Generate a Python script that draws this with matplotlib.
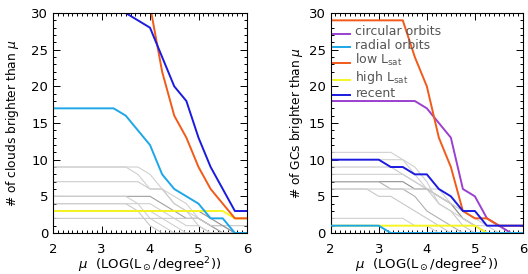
import numpy as np
import matplotlib
matplotlib.use("Agg")
import matplotlib.pyplot as plt
from matplotlib.ticker import MultipleLocator
from matplotlib.legend_handler import HandlerLine2D

plt.rcParams['font.family'] = ['DejaVu Sans']
plt.rcParams['mathtext.fontset'] = 'dejavusans'

# surface brightness grid
mu = [2.0, 2.25, 2.5, 2.75, 3.0, 3.25, 3.5, 3.75, 4.0, 4.25, 4.5, 4.75, 5.0, 5.25, 5.5, 5.75, 6.0]

# left panel: clouds
recent_l = [34, 34, 34, 33, 33, 31, 30, 29, 28, 24, 20, 18, 13, 9, 6, 3, 3]
low_l    = [45, 45, 44, 43, 42, 40, 37, 34, 31, 22, 16, 13, 9, 6, 4, 2, 2]
radial_l = [17, 17, 17, 17, 17, 17, 16, 14, 12, 8, 6, 5, 4, 2, 2, 0, 0]
high_l   = [3, 3, 3, 3, 3, 3, 3, 3, 3, 3, 3, 3, 3, 3, 3, 2, 2]
gray_l = [
    [9, 9, 9, 9, 9, 9, 9, 8, 6, 6, 5, 4, 2, 1, 1, 0, 0],
    [9, 9, 9, 9, 9, 9, 9, 9, 8, 6, 4, 3, 2, 1, 0, 0, 0],
    [7, 7, 7, 7, 7, 7, 7, 7, 6, 6, 4, 3, 1, 0, 0, 0, 0],
    [5, 5, 5, 5, 5, 5, 5, 5, 5, 4, 3, 2, 2, 1, 0, 0, 0],
    [5, 5, 5, 5, 5, 5, 5, 4, 2, 1, 0, 0, 0, 0, 0, 0, 0],
    [4, 4, 4, 4, 4, 4, 4, 3, 1, 0, 0, 0, 0, 0, 0, 0, 0],
    [3, 3, 3, 3, 3, 3, 3, 3, 3, 2, 1, 0, 0, 0, 0, 0, 0],
    [2, 2, 2, 2, 2, 2, 2, 2, 2, 2, 2, 2, 2, 1, 1, 1, 1],
    [4, 4, 4, 4, 4, 4, 4, 4, 4, 3, 2, 1, 1, 0, 0, 0, 0],
    [3, 3, 3, 3, 3, 3, 3, 3, 3, 3, 3, 3, 3, 2, 1, 0, 0],
]
gray_l_col = ['#d0d0d0', '#d0d0d0', '#cccccc', '#a0a0a0', '#d0d0d0',
              '#c8c8c8', '#d0d0d0', '#c8c8c8', '#d0d0d0', '#909090']

# right panel: GCs
circ_r   = [18, 18, 18, 18, 18, 18, 18, 18, 17, 15, 13, 6, 5, 2, 1, 0, 0]
radial_r = [1, 1, 1, 1, 1, 0, 0, 0, 0, 0, 0, 0, 0, 0, 0, 0, 0]
low_r    = [29, 29, 29, 29, 29, 29, 29, 24, 20, 13, 9, 3, 2, 2, 1, 1, 1]
high_r   = [1, 1, 1, 1, 1, 1, 1, 1, 1, 1, 1, 1, 1, 0, 0, 0, 0]
recent_r = [10, 10, 10, 10, 10, 9, 9, 8, 8, 6, 5, 3, 3, 1, 1, 1, 1]
gray_r = [
    [11, 11, 11, 11, 11, 11, 10, 8, 6, 5, 4, 2, 1, 0, 0, 0, 0],
    [9, 9, 9, 9, 9, 9, 8, 7, 6, 4, 3, 1, 0, 0, 0, 0, 0],
    [8, 8, 8, 8, 8, 8, 8, 7, 6, 6, 4, 3, 2, 1, 0, 0, 0],
    [7, 7, 7, 7, 7, 7, 7, 6, 6, 5, 4, 2, 1, 0, 0, 0, 0],
    [6, 6, 6, 6, 5, 5, 4, 3, 2, 1, 0, 0, 0, 0, 0, 0, 0],
    [2, 2, 2, 2, 2, 2, 2, 1, 1, 0, 0, 0, 0, 0, 0, 0, 0],
    [10, 10, 10, 10, 10, 10, 10, 9, 7, 4, 3, 2, 1, 1, 1, 0, 0],
    [7, 7, 7, 7, 7, 6, 6, 5, 3, 2, 1, 0, 0, 0, 0, 0, 0],
    [6, 6, 6, 6, 6, 6, 6, 6, 6, 5, 4, 3, 2, 2, 1, 0, 0],
]
gray_r_col = ['#d0d0d0', '#c8c8c8', '#d0d0d0', '#909090', '#c8c8c8',
              '#d0d0d0', '#d0d0d0', '#b0b0b0', '#d0d0d0']

c_circ = '#9b40d0'
c_rad = '#1ea7e8'
c_low = '#f25a1a'
c_high = '#f5f520'
c_rec = '#1a1ae0'

xlab = r'$\mu$  (LOG(L$_\odot$/degree$^2$))'


class LowLine(HandlerLine2D):
    # legend line sits at the text baseline, as in IDL
    def create_artists(self, legend, orig_handle, xdescent, ydescent,
                       width, height, fontsize, trans):
        arts = super().create_artists(legend, orig_handle, xdescent, ydescent,
                                      width, height, fontsize, trans)
        for a in arts:
            a.set_ydata(np.asarray(a.get_ydata()) - 0.35 * height)
        return arts


fig = plt.figure(figsize=(5.28, 2.74), dpi=100)
axL = fig.add_axes([0.1004, 0.1496, 0.3674, 0.8029])
axR = fig.add_axes([0.6263, 0.1496, 0.3642, 0.8029])


def style(ax):
    ax.set_xlim(2, 6)
    ax.set_ylim(0, 30)
    ax.xaxis.set_major_locator(MultipleLocator(1))
    ax.xaxis.set_minor_locator(MultipleLocator(0.1))
    ax.yaxis.set_major_locator(MultipleLocator(5))
    ax.yaxis.set_minor_locator(MultipleLocator(1))
    ax.tick_params(which='both', direction='in', top=True, right=True,
                   width=0.7, labelsize=9.5, colors='black')
    ax.tick_params(which='major', length=5)
    ax.tick_params(which='minor', length=2.5)
    ax.tick_params(axis='x', pad=7.5)
    for s in ax.spines.values():
        s.set_linewidth(0.8)
    ax.set_xlabel(xlab, fontsize=9.5, labelpad=-1)


# left
for g, c in zip(gray_l, gray_l_col):
    axL.plot(mu, g, color=c, lw=0.8)
axL.plot(mu, high_l, color=c_high, lw=1.4)
axL.plot(mu, radial_l, color=c_rad, lw=1.4)
axL.plot(mu, low_l, color=c_low, lw=1.4)
axL.plot(mu, recent_l, color=c_rec, lw=1.4)
style(axL)
axL.set_ylabel(r'# of clouds brighter than $\mu$', fontsize=8.8, labelpad=7)

# right
for g, c in zip(gray_r, gray_r_col):
    axR.plot(mu, g, color=c, lw=0.8)
axR.plot(mu, circ_r, color=c_circ, lw=1.4, label='circular orbits')
axR.plot(mu, high_r, color=c_high, lw=1.4, zorder=2)
axR.plot(mu, radial_r, color=c_rad, lw=1.4, label='radial orbits', zorder=3)
axR.plot(mu, low_r, color=c_low, lw=1.4, label=r'low L$_{\rm sat}$')
axR.plot([], [], color=c_high, lw=1.4, label=r'high L$_{\rm sat}$')
axR.plot(mu, recent_r, color=c_rec, lw=1.4, label='recent')
style(axR)
axR.set_ylabel(r'# of GCs brighter than $\mu$', fontsize=8.8, labelpad=3)

leg = axR.legend(loc='upper left', bbox_to_anchor=(0.012, 0.945), frameon=False,
                 fontsize=9, handlelength=1.35, handletextpad=0.45,
                 labelspacing=0.05, borderaxespad=0, borderpad=0,
                 labelcolor='#555555', handler_map={plt.Line2D: LowLine()})

fig.savefig('out.png', dpi=100)
